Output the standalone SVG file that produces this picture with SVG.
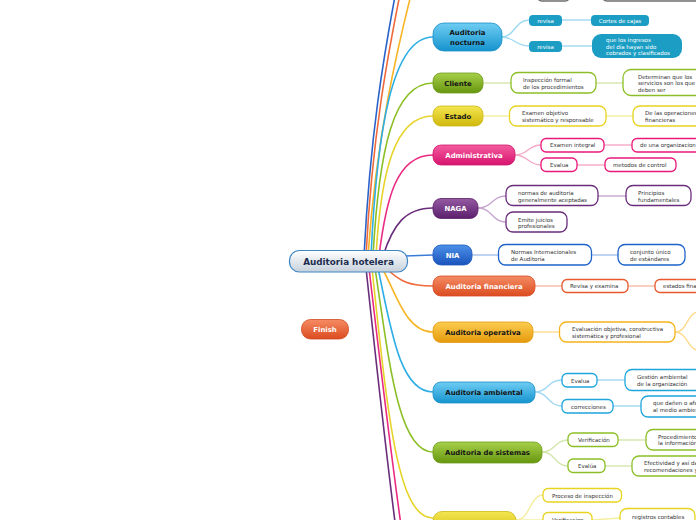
<svg xmlns="http://www.w3.org/2000/svg" width="696" height="520" viewBox="0 0 696 520">
<defs>
<linearGradient id="gLb" x1="0" y1="0" x2="0" y2="1"><stop offset="0" stop-color="#6fcdf3"/><stop offset="1" stop-color="#1593ce"/></linearGradient>
<linearGradient id="gGr" x1="0" y1="0" x2="0" y2="1"><stop offset="0" stop-color="#a8d04a"/><stop offset="1" stop-color="#66960f"/></linearGradient>
<linearGradient id="gYe" x1="0" y1="0" x2="0" y2="1"><stop offset="0" stop-color="#f4e650"/><stop offset="1" stop-color="#d0b80c"/></linearGradient>
<linearGradient id="gPk" x1="0" y1="0" x2="0" y2="1"><stop offset="0" stop-color="#f55c9f"/><stop offset="1" stop-color="#d6136e"/></linearGradient>
<linearGradient id="gPu" x1="0" y1="0" x2="0" y2="1"><stop offset="0" stop-color="#955aa2"/><stop offset="1" stop-color="#5b1f6d"/></linearGradient>
<linearGradient id="gBl" x1="0" y1="0" x2="0" y2="1"><stop offset="0" stop-color="#4d91e8"/><stop offset="1" stop-color="#1953bd"/></linearGradient>
<linearGradient id="gRd" x1="0" y1="0" x2="0" y2="1"><stop offset="0" stop-color="#f58c64"/><stop offset="1" stop-color="#dc4b20"/></linearGradient>
<linearGradient id="gAm" x1="0" y1="0" x2="0" y2="1"><stop offset="0" stop-color="#fccd50"/><stop offset="1" stop-color="#e59a0c"/></linearGradient>
<linearGradient id="gCe" x1="0" y1="0" x2="0" y2="1"><stop offset="0" stop-color="#ffffff"/><stop offset="1" stop-color="#c6d1dc"/></linearGradient>
</defs>
<style>
.m{font-family:"DejaVu Sans",Verdana,sans-serif;font-weight:bold;font-size:6.9px;text-anchor:middle}
.dk{fill:#141414}.wh{fill:#ffffff}
.t{font-family:"DejaVu Sans",Verdana,sans-serif;font-size:5.5px;fill:#333333}
.tw{font-family:"DejaVu Sans",Verdana,sans-serif;font-size:5.5px;fill:#ffffff;text-anchor:middle}
.c{fill:#ffffff;stroke-width:1.3}
.conn path{fill:none;stroke-width:1.6}
.sub path{fill:none;stroke-width:1.4}
</style>

<g id="connectors">
<g class="conn">
<path d="M364 256 C370 140 382 60 402 -40" stroke="#2a62c9"/>
<path d="M366 256 C372 140 386 60 407 -40" stroke="#ee6a3c"/>
<path d="M368 256 C376 140 396 50 420 -40" stroke="#f7b526"/>
<path d="M371 256 C377 130 392 37 433 37" stroke="#2eaee4"/>
<path d="M373 256 C379 150 393 83 433 83" stroke="#8cbf26"/>
<path d="M376 256 C381 170 395 116 433 116" stroke="#e7d42a"/>
<path d="M379 256 C386 200 396 155 433 155" stroke="#ea2a82"/>
<path d="M383 256 C393 225 405 208 433 208" stroke="#6a2d7b"/>
<path d="M405 256 L433 255" stroke="#3a7bd8"/>
<path d="M386 268 C400 282 410 286 433 286" stroke="#ee6a3c"/>
<path d="M382 268 C395 290 405 332 433 332" stroke="#f7b526"/>
<path d="M378 268 C391 330 400 392 433 392" stroke="#2eaee4"/>
<path d="M375 268 C389 360 398 452 433 452" stroke="#8cbf26"/>
<path d="M372 268 C388 420 398 518 433 518" stroke="#e7d42a"/>
<path d="M369 268 C382 380 394 480 406 560" stroke="#ea2a82"/>
<path d="M366 268 C378 380 389 480 400 560" stroke="#6a2d7b"/>
</g>
<g class="sub">
<path d="M501 37 C515 37 515 20 529 20" stroke="#9fd8f2"/>
<path d="M501 37 C515 37 515 46 529 46" stroke="#9fd8f2"/>
<path d="M562 20 L591 20" stroke="#9fd8f2"/>
<path d="M562 46 L592 46" stroke="#9fd8f2"/>
<path d="M483 83 L511 83" stroke="#d3e6ad"/>
<path d="M596 83 L623 83" stroke="#d3e6ad"/>
<path d="M483 116 L509 116" stroke="#f4ee9e"/>
<path d="M606 116 L633 116" stroke="#f4ee9e"/>
<path d="M515 155 C528 155 528 145 541 145" stroke="#f6a8c9"/>
<path d="M515 155 C528 155 528 165 541 165" stroke="#f6a8c9"/>
<path d="M604 145 L632 145" stroke="#f6a8c9"/>
<path d="M577 165 L605 165" stroke="#f6a8c9"/>
<path d="M478 208 C492 208 492 196 506 196" stroke="#c6a6cf"/>
<path d="M478 208 C492 208 492 222 506 222" stroke="#c6a6cf"/>
<path d="M598 196 L626 196" stroke="#c6a6cf"/>
<path d="M472 255 L498 255" stroke="#a3c0ea"/>
<path d="M592 255 L618 255" stroke="#a3c0ea"/>
<path d="M535 286 L562 286" stroke="#f7baa4"/>
<path d="M628 286 L655 286" stroke="#f7baa4"/>
<path d="M533 332 L559 332" stroke="#fcdb8e"/>
<path d="M675 332 C688 332 686 313 700 311" stroke="#fcdb8e"/>
<path d="M675 332 C688 332 686 349 700 351" stroke="#fcdb8e"/>
<path d="M535 392 C548 392 548 380 562 380" stroke="#9fd8f2"/>
<path d="M535 392 C548 392 548 406 562 406" stroke="#9fd8f2"/>
<path d="M597 380 L625 380" stroke="#9fd8f2"/>
<path d="M613 406 L641 406" stroke="#9fd8f2"/>
<path d="M542 452 C555 452 555 440 568 440" stroke="#d3e6ad"/>
<path d="M542 452 C555 452 555 466 568 466" stroke="#d3e6ad"/>
<path d="M618 440 L646 440" stroke="#d3e6ad"/>
<path d="M605 466 L632 466" stroke="#d3e6ad"/>
<path d="M516 520 C530 520 530 495 543 495" stroke="#f4ee9e"/>
<path d="M516 520 L543 520" stroke="#f4ee9e"/>
<path d="M592 520 L620 518" stroke="#f4ee9e"/>
</g>
</g>

<g id="n-top-a"><rect x="537" y="-30" width="33" height="31" rx="5" fill="#ffffff" stroke="#6e6e6e" stroke-width="1.5"/></g>
<g id="n-top-b"><rect x="602" y="-30" width="110" height="31" rx="5" fill="#ffffff" stroke="#6e6e6e" stroke-width="1.5"/></g>

<g id="n-center">
<rect x="289.5" y="250.5" width="118" height="21.5" rx="10" fill="url(#gCe)" stroke="#3f86c4" stroke-width="1.2"/>
<text x="348.5" y="264.5" class="m" style="font-size:8.8px;fill:#1c2d4f">Auditoria hotelera</text>
</g>
<g id="n-finish">
<rect x="301.5" y="319.5" width="47" height="19.5" rx="9" fill="url(#gRd)" stroke="#d04a22" stroke-width="0.8"/>
<text x="325" y="331.5" class="m wh">Finish</text>
</g>

<g id="n-nocturna">
<rect x="433" y="23" width="69" height="28" rx="11" fill="url(#gLb)" stroke="#1a8fc8" stroke-width="0.8"/>
<text x="467.5" y="35" class="m dk">Auditoria</text>
<text x="467.5" y="44.5" class="m dk">nocturna</text>
</g>
<g id="n-revisa1"><rect x="529" y="15" width="33" height="11" rx="4" fill="#1b9dc4"/><text x="545.5" y="22.5" class="tw">revisa</text></g>
<g id="n-cortes"><rect x="591" y="15" width="58" height="11" rx="4" fill="#1b9dc4"/><text x="620" y="22.5" class="tw">Cortes de cajas</text></g>
<g id="n-revisa2"><rect x="529" y="41" width="33" height="11" rx="4" fill="#1b9dc4"/><text x="545.5" y="48.5" class="tw">revisa</text></g>
<g id="n-ingresos"><rect x="592" y="34" width="90" height="24" rx="9" fill="#1b9dc4"/>
<text x="606" y="42" class="tw" style="text-anchor:start">que los ingresos</text>
<text x="606" y="48.5" class="tw" style="text-anchor:start">del día hayan sido</text>
<text x="606" y="55" class="tw" style="text-anchor:start">cobrados y clasificados</text></g>

<g id="n-cliente">
<rect x="433" y="73" width="50" height="20" rx="8" fill="url(#gGr)" stroke="#6f9c1c" stroke-width="0.8"/>
<text x="458" y="85.5" class="m dk">Cliente</text>
</g>
<g id="n-inspeccion"><rect x="511" y="72.5" width="85" height="20.5" rx="7" class="c" stroke="#8cbf26"/>
<text x="523" y="82" class="t">Inspección formal</text><text x="523" y="88.5" class="t">de los procedimientos</text></g>
<g id="n-determinan"><rect x="623" y="69.5" width="90" height="26" rx="8" class="c" stroke="#8cbf26"/>
<text x="638" y="78.5" class="t">Determinan que los</text><text x="638" y="85" class="t">servicios son los que</text><text x="638" y="91.5" class="t">deben ser</text></g>

<g id="n-estado">
<rect x="433" y="106" width="50" height="20" rx="8" fill="url(#gYe)" stroke="#cdb818" stroke-width="0.8"/>
<text x="458" y="118.5" class="m dk">Estado</text>
</g>
<g id="n-examen"><rect x="509.5" y="106" width="96.5" height="20" rx="7" class="c" stroke="#e8d420"/>
<text x="522" y="115" class="t">Examen objetivo</text><text x="522" y="121.5" class="t">sistemático y responsable</text></g>
<g id="n-operaciones"><rect x="633" y="106" width="80" height="20" rx="7" class="c" stroke="#e8d420"/>
<text x="645" y="115" class="t">De las operaciones</text><text x="645" y="121.5" class="t">financieras</text></g>

<g id="n-administrativa">
<rect x="433" y="145" width="82" height="20" rx="8" fill="url(#gPk)" stroke="#d0166c" stroke-width="0.8"/>
<text x="474" y="157.5" class="m wh">Administrativa</text>
</g>
<g id="n-integral"><rect x="541" y="138.5" width="63" height="13.5" rx="5" class="c" stroke="#e8197a"/><text x="550" y="147" class="t">Examen integral</text></g>
<g id="n-organizacion"><rect x="632" y="138.5" width="80" height="13.5" rx="5" class="c" stroke="#e8197a"/><text x="640" y="147" class="t">de una organizacion</text></g>
<g id="n-evalua1"><rect x="541" y="158" width="36" height="13.5" rx="5" class="c" stroke="#e8197a"/><text x="550" y="167" class="t">Evalua</text></g>
<g id="n-metodos"><rect x="605" y="158" width="71" height="13.5" rx="5" class="c" stroke="#e8197a"/><text x="613" y="167" class="t">metodos de control</text></g>

<g id="n-naga">
<rect x="433" y="198.5" width="45" height="20" rx="8" fill="url(#gPu)" stroke="#5a2068" stroke-width="0.8"/>
<text x="455.5" y="211" class="m wh">NAGA</text>
</g>
<g id="n-normas"><rect x="506" y="185.5" width="92" height="20" rx="7" class="c" stroke="#6a2d7b"/>
<text x="518" y="195" class="t">normas de auditoria</text><text x="518" y="201.5" class="t">generalmente aceptadas</text></g>
<g id="n-principios"><rect x="626" y="185.5" width="65" height="20" rx="7" class="c" stroke="#6a2d7b"/>
<text x="638" y="195" class="t">Principios</text><text x="638" y="201.5" class="t">fundamentales</text></g>
<g id="n-juicios"><rect x="506" y="212" width="61" height="20" rx="7" class="c" stroke="#6a2d7b"/>
<text x="518" y="221.5" class="t">Emite juicios</text><text x="518" y="228" class="t">profesionales</text></g>

<g id="n-nia">
<rect x="433" y="245" width="39" height="20" rx="8" fill="url(#gBl)" stroke="#1d58bd" stroke-width="0.8"/>
<text x="452.5" y="257.5" class="m wh">NIA</text>
</g>
<g id="n-internacionales"><rect x="498.5" y="244.5" width="93" height="20.5" rx="7" class="c" stroke="#1e63c8"/>
<text x="511" y="254" class="t">Normas Internacionales</text><text x="511" y="260.5" class="t">de Auditoría</text></g>
<g id="n-conjunto"><rect x="618" y="244.5" width="67" height="20.5" rx="7" class="c" stroke="#1e63c8"/>
<text x="630" y="254" class="t">conjunto único</text><text x="630" y="260.5" class="t">de estándares</text></g>

<g id="n-financiera">
<rect x="433" y="276" width="102" height="20" rx="8" fill="url(#gRd)" stroke="#d54d25" stroke-width="0.8"/>
<text x="484" y="288.5" class="m wh">Auditoria financiera</text>
</g>
<g id="n-revisa3"><rect x="562" y="279.5" width="66" height="13" rx="5" class="c" stroke="#e8582c"/><text x="570" y="288" class="t">Revisa y examina</text></g>
<g id="n-estados"><rect x="655" y="279.5" width="70" height="13" rx="5" class="c" stroke="#e8582c"/><text x="663" y="288" class="t">estados financieros</text></g>

<g id="n-operativa">
<rect x="433" y="322" width="100" height="20.5" rx="8" fill="url(#gAm)" stroke="#e39a12" stroke-width="0.8"/>
<text x="483" y="334.8" class="m dk">Auditoria operativa</text>
</g>
<g id="n-evaluacion"><rect x="559.5" y="322" width="115.5" height="20" rx="7" class="c" stroke="#f5b21a"/>
<text x="572" y="331" class="t">Evaluación objetiva, constructiva</text><text x="572" y="337.5" class="t">sistemática y profesional</text></g>

<g id="n-ambiental">
<rect x="433" y="382" width="102" height="21" rx="8" fill="url(#gLb)" stroke="#1a8fc8" stroke-width="0.8"/>
<text x="484" y="395" class="m dk">Auditoria ambiental</text>
</g>
<g id="n-evalua2"><rect x="562" y="373.5" width="35" height="13.5" rx="5" class="c" stroke="#1ea5dc"/><text x="571" y="382.5" class="t">Evalua</text></g>
<g id="n-gestion"><rect x="625" y="369.5" width="85" height="21" rx="7" class="c" stroke="#1ea5dc"/>
<text x="637" y="379" class="t">Gestión ambiental</text><text x="637" y="385.5" class="t">de la organización</text></g>
<g id="n-correcciones"><rect x="562" y="399.5" width="51" height="13.5" rx="5" class="c" stroke="#1ea5dc"/><text x="571" y="408.5" class="t">correcciones</text></g>
<g id="n-danen"><rect x="641" y="396" width="75" height="21" rx="7" class="c" stroke="#1ea5dc"/>
<text x="653" y="405" class="t">que dañen o afecten</text><text x="653" y="411.5" class="t">al medio ambiente</text></g>

<g id="n-sistemas">
<rect x="433" y="442" width="109" height="21" rx="8" fill="url(#gGr)" stroke="#6f9c1c" stroke-width="0.8"/>
<text x="487.5" y="455" class="m dk">Auditoria de sistemas</text>
</g>
<g id="n-verificacion1"><rect x="568" y="433" width="50" height="13.5" rx="5" class="c" stroke="#8cbf26"/><text x="578" y="442" class="t">Verificación</text></g>
<g id="n-procedimientos"><rect x="646" y="429.5" width="70" height="20.5" rx="7" class="c" stroke="#8cbf26"/>
<text x="658" y="438.5" class="t">Procedimientos</text><text x="658" y="445" class="t">la información</text></g>
<g id="n-evalua3"><rect x="568" y="459" width="37" height="13.5" rx="5" class="c" stroke="#8cbf26"/><text x="578" y="468" class="t">Evalúa</text></g>
<g id="n-efectividad"><rect x="632" y="456" width="80" height="20" rx="7" class="c" stroke="#8cbf26"/>
<text x="644" y="465" class="t">Efectividad y así dar</text><text x="644" y="471.5" class="t">recomendaciones y</text></g>

<g id="n-bottom">
<rect x="433" y="511.5" width="83" height="24" rx="9" fill="url(#gYe)" stroke="#cdb818" stroke-width="0.8"/>
</g>
<g id="n-proceso"><rect x="543" y="488.5" width="78.5" height="13.5" rx="5" class="c" stroke="#e8d420"/><text x="552" y="497.5" class="t">Proceso de inspección</text></g>
<g id="n-verificacion2"><rect x="543" y="512.5" width="49" height="14" rx="5" class="c" stroke="#e8d420"/><text x="552" y="522" class="t">Verificacion</text></g>
<g id="n-registros"><rect x="620" y="508.5" width="75" height="20" rx="7" class="c" stroke="#e8d420"/><text x="632" y="518.5" class="t">registros contables</text></g>
</svg>
